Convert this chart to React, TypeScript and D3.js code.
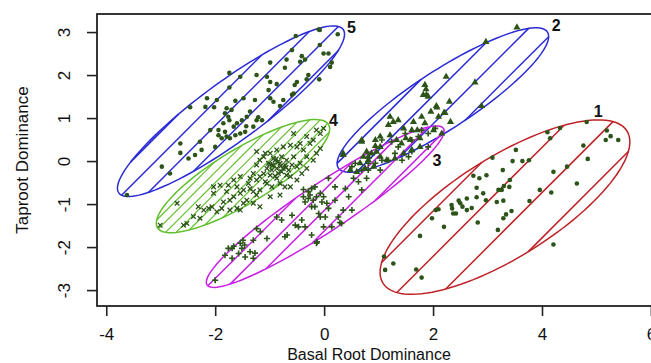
import React, { useEffect, useRef } from 'react';
import * as d3 from 'd3';

const width = 651;
const height = 363;
const font = 'Liberation Sans, Arial, Helvetica, sans-serif';

// plot region (R "usr" limits) and where it sits on the page
const xLimits = [-4.17, 6.35];
const yLimits = [-3.37, 3.42];
const plot = { left: 97, right: 670, top: 14, bottom: 306 };

const xTicks = [-4, -2, 0, 2, 4, 6];
const yTicks = [-3, -2, -1, 0, 1, 2, 3];
const xTitle = 'Basal Root Dominance';
const yTitle = 'Taproot Dominance';

const groupLabels = ['1', '2', '3', '4', '5'];
const groupColors = ['#bd2227', '#2a2ad6', '#c81ee6', '#62bf2e', '#2a2ad6'];
const pointColor = '#2c5419';

// ellipse centre and two conjugate semi-axes, in data units
const ellipseCenters = [[3.32, -1.07], [2.18, 1.42], [0.02, -1.06], [-1.49, -0.35], [-1.71, 1.16]];
const ellipseMajor = [[2.24, 1.77], [1.92, 1.58], [2.17, 1.82], [1.57, 1.2], [2.06, 1.9]];
const ellipseMinor = [[0.49, -0.99], [0.29, -0.57], [0.24, -0.46], [0.26, -0.54], [0.32, -0.57]];
const labelPositions = [[5.03, 1.16], [4.26, 3.16], [2.07, 0.02], [0.17, 0.95], [0.5, 3.12]];

// shading lines (pixels): spacing and offset from the centre
const hatchSpacing = [32, 20, 14.5, 7.5, 17];
const hatchPhase = [16, 10, 2, 0, -1];

const group1 = [
  [4.82, 0.91], [5.19, 0.71], [5.26, 0.58], [5.4, 0.49], [5.17, 0.49], [4.76, 0.36], [4.84, 0.05],
  [4.1, 0.67], [4.15, 0.53], [4.33, 0.77], [3.52, 0.26], [3.46, 0.0], [3.64, 0.0], [3.76, 0.02],
  [3.09, 0.08], [3.28, -0.21], [4.21, -0.25], [4.46, -0.13], [2.74, -0.34], [2.85, -0.4], [2.98, -0.33],
  [3.41, -0.44], [3.3, -0.58], [3.2, -0.67], [3.26, -0.67], [3.4, -0.6], [4.64, -0.52], [3.96, -0.67],
  [4.17, -0.73], [2.8, -0.62], [2.92, -0.75], [2.97, -0.91], [2.8, -0.84], [2.62, -0.87], [2.47, -0.92],
  [2.5, -0.98], [2.54, -1.06], [2.34, -1.02], [2.35, -1.1], [2.42, -1.22], [2.37, -1.22], [2.1, -1.12],
  [2.05, -1.14], [1.98, -1.33], [2.62, -1.14], [2.71, -1.09], [2.82, -1.43], [2.2, -1.53], [1.76, -1.74],
  [3.17, -0.95], [3.29, -0.92], [3.77, -0.93], [3.44, -1.16], [3.34, -1.24], [3.29, -1.33], [3.19, -1.6],
  [4.21, -1.94], [1.1, -2.22], [1.12, -2.53], [1.27, -2.38], [1.69, -2.52], [1.79, -2.71],
];

const group2 = [
  [3.54, 3.11], [2.97, 2.77], [2.24, 1.96], [2.77, 1.83], [2.89, 1.28], [1.85, 1.77], [1.88, 1.54],
  [1.91, 1.5], [1.82, 1.54], [2.3, 1.38], [2.07, 1.25], [1.96, 1.15], [2.1, 1.03], [2.22, 1.12],
  [2.32, 0.91], [1.79, 1.03], [1.85, 0.88], [1.64, 0.91], [1.71, 0.72], [1.36, 0.95], [1.21, 1.03],
  [1.27, 0.91], [1.18, 0.84], [1.46, 0.76], [1.61, 0.72], [1.5, 0.53], [1.21, 0.6], [1.33, 0.49],
  [1.42, 0.41], [1.58, 0.49], [1.76, 0.53], [1.03, 0.57], [0.69, 0.49], [0.94, 0.35], [0.78, 0.22],
  [0.87, 0.18], [0.72, 0.1], [0.81, 0.02], [0.66, -0.05], [0.35, 0.14], [1.03, 0.1], [1.15, 0.02],
  [1.3, 0.06], [1.46, 0.18], [1.61, 0.26], [0.91, -0.13], [0.75, -0.17], [0.6, -0.25], [0.48, -0.21],
  [1.03, 0.33], [1.76, 0.33], [2.01, 0.72], [1.87, 1.67], [2.06, 1.28], [2.2, 1.12], [2.16, 0.64],
  [0.35, 0.18], [0.69, 0.45], [0.94, 0.49], [0.81, 0.1], [0.96, 0.22],
];

const group3 = [
  [-2.0, -2.77], [-1.82, -2.19], [-1.76, -2.03], [-1.66, -1.98], [-1.54, -1.91], [-1.51, -2.03],
  [-1.46, -1.95], [-1.57, -2.15], [-1.69, -2.26], [-1.45, -2.23], [-1.3, -2.26], [-1.36, -2.11],
  [-1.24, -1.57], [-1.17, -1.64], [-1.3, -1.84], [-1.05, -1.8], [-0.87, -1.3], [-0.78, -1.37],
  [-0.72, -1.76], [-0.59, -1.26], [-0.53, -1.49], [-0.41, -1.37], [-0.35, -0.95], [-0.29, -0.71],
  [-0.26, -0.79], [-0.23, -0.64], [-0.17, -0.6], [-0.2, -0.91], [-0.14, -0.83], [-0.07, -0.75],
  [-0.04, -0.95], [-0.17, -1.06], [-0.1, -1.22], [-0.07, -1.3], [0.05, -0.98], [0.08, -1.1],
  [0.02, -1.3], [0.2, -0.91], [0.26, -1.3], [0.35, -1.14], [0.45, -0.83], [0.51, -1.14], [0.32, -1.45],
  [0.14, -1.53], [-0.01, -1.53], [-0.23, -1.72], [-0.35, -1.53], [-0.47, -1.53], [-0.14, -1.91],
  [0.08, -0.4], [0.2, -0.6], [0.39, -0.64], [0.54, -0.4], [0.63, -0.48], [0.69, -0.67], [0.78, -0.4],
  [0.69, -0.21], [0.51, -0.13], [0.81, -0.21], [0.57, -0.05], [0.94, -0.05], [0.81, -0.05], [1.06, 0.02],
  [1.03, -0.21], [1.18, 0.02], [1.3, 0.18], [1.36, 0.33], [1.43, 0.02], [1.55, 0.1], [1.61, 0.49],
  [1.73, 0.57], [1.91, 0.64], [1.79, 0.72], [2.04, 0.76], [1.61, 0.22], [1.24, 0.45], [1.06, 0.49],
  [1.49, 0.64], [1.91, 0.33], [-0.29, -0.87], [-0.38, -0.83], [-0.23, -1.06], [-0.01, -0.83],
  [-1.69, -2.03], [-1.49, -1.84], [-1.27, -2.14], [-0.68, -1.72], [-0.38, -0.66], [0.29, -1.43], [-0.13, -1.88],
];

const group4 = [
  [-3.01, -1.49], [-2.7, -0.98], [-2.58, -1.49], [-2.52, -1.45], [-2.31, -1.06], [-2.12, -1.1],
  [-2.06, -1.06], [-2.28, -1.33], [-2.03, -0.75], [-1.97, -1.18], [-1.88, -1.1], [-1.85, -0.95],
  [-1.79, -0.71], [-1.73, -0.91], [-1.66, -0.83], [-1.6, -0.6], [-1.54, -0.75], [-1.48, -0.67],
  [-1.42, -0.91], [-1.39, -0.52], [-1.36, -0.64], [-1.3, -0.71], [-1.24, -0.79], [-1.18, -0.67],
  [-1.36, -0.4], [-1.3, -0.29], [-1.24, -0.44], [-1.18, -0.36], [-1.11, -0.29], [-1.08, -0.48],
  [-1.05, -0.17], [-1.02, -0.05], [-0.99, -0.33], [-0.96, -0.21], [-0.93, -0.09], [-0.9, 0.02],
  [-0.87, -0.17], [-0.84, -0.29], [-0.81, -0.05], [-0.78, 0.1], [-0.75, -0.17], [-0.72, -0.09],
  [-0.69, 0.02], [-0.65, -0.21], [-0.62, -0.36], [-0.59, -0.09], [-0.56, 0.1], [-0.5, 0.33],
  [-0.5, -0.13], [-0.44, 0.41], [-0.38, 0.26], [-0.32, 0.1], [-0.32, 0.57], [-0.26, 0.41], [-0.2, 0.49],
  [-0.14, 0.72], [-0.07, 0.64], [-0.01, 0.76], [-0.62, 0.37], [-0.56, 0.64], [-0.75, 0.33], [-0.87, 0.26],
  [-0.99, 0.18], [-1.11, 0.1], [-1.18, 0.02], [-1.24, -0.09], [-1.05, -0.52], [-0.96, -0.6], [-0.81, -0.52],
  [-1.54, -0.36], [-1.66, -0.44], [-1.76, -0.56], [-1.91, -0.56], [-2.03, -0.6], [-1.48, -0.98],
  [-1.6, -1.1], [-1.73, -1.14], [-2.21, -1.14], [-2.4, -1.29], [-1.54, -1.14], [-1.3, -0.98],
  [-1.18, -1.06], [-0.99, -0.83], [-0.81, -0.79], [-0.72, -0.6], [-0.62, -0.6], [-0.5, -0.44],
  [-0.41, -0.29], [-0.32, -0.17], [-0.2, 0.02], [-0.14, 0.18], [-0.07, 0.29], [-0.44, -0.05],
  [-0.69, -0.33], [-0.87, -0.4], [-0.93, 0.06], [-1.08, 0.18], [-1.24, 0.22], [-0.95, -0.1],
  [-0.85, -0.02], [-0.78, -0.25], [-0.9, -0.35], [-1.0, -0.08], [-0.7, -0.15], [-0.88, 0.05], [-0.8, -0.12],
];

const group5 = [
  [-0.1, 3.06], [-0.08, 3.05], [-0.52, 2.91], [0.25, 2.95], [-0.08, 2.7], [-0.59, 2.58], [-0.01, 2.5],
  [0.08, 2.5], [-0.41, 2.44], [-0.35, 2.36], [-0.44, 2.31], [-0.69, 2.36], [0.14, 2.29], [0.11, 2.19],
  [-0.09, 1.9], [-0.29, 2.0], [-0.32, 1.9], [-0.99, 2.29], [-1.74, 2.05], [-1.24, 2.0], [-1.05, 1.96],
  [-0.99, 1.84], [-0.87, 1.79], [-0.72, 2.17], [-0.5, 1.84], [-0.54, 1.77], [-0.56, 1.57], [-0.59, 1.54],
  [-0.75, 1.42], [-0.81, 1.28], [-0.93, 1.38], [-0.99, 1.46], [-1.02, 1.65], [-1.27, 1.42], [-1.48, 1.46],
  [-1.63, 1.4], [-1.54, 1.96], [-1.74, 1.71], [-2.15, 1.46], [-1.97, 1.42], [-2.02, 1.25], [-2.46, 1.25],
  [-2.18, 1.26], [-1.79, 1.23], [-1.82, 1.11], [-1.76, 1.03], [-1.7, 1.19], [-1.74, 0.95], [-1.85, 0.88],
  [-1.66, 0.8], [-1.6, 0.88], [-1.51, 0.95], [-1.42, 1.03], [-1.36, 1.15], [-1.24, 0.95], [-1.21, 1.02],
  [-1.14, 0.95], [-1.3, 0.8], [-1.45, 0.68], [-1.54, 0.64], [-1.63, 0.6], [-1.79, 0.57], [-1.88, 0.53],
  [-1.94, 0.6], [-1.82, 0.68], [-2.0, 0.33], [-2.28, 0.45], [-2.25, 0.26], [-2.37, 0.14], [-2.64, 0.41],
  [-2.49, 0.06], [-2.64, 0.19], [-2.98, -0.13], [-2.83, -0.29], [-3.62, -0.79], [-1.43, 0.81],
  [-1.73, 0.53], [-1.94, 0.72], [-2.09, 0.72],
];

const groups = [group1, group2, group3, group4, group5];

type Pt = [number, number];

// shading lines at 45 degrees, cut where they meet the ellipse
function hatchSegments(c: Pt, u: Pt, v: Pt, spacing: number, phase: number) {
  const d: Pt = [Math.SQRT1_2, -Math.SQRT1_2];
  const n: Pt = [Math.SQRT1_2, Math.SQRT1_2];
  const det = u[0] * v[1] - v[0] * u[1];
  const inv = (w: Pt): Pt => [(v[1] * w[0] - v[0] * w[1]) / det, (-u[1] * w[0] + u[0] * w[1]) / det];
  const q = inv(d);
  const segs: [Pt, Pt][] = [];
  for (let k = -80; k <= 80; k++) {
    const s = phase + k * spacing;
    const p = inv([s * n[0], s * n[1]]);
    const A = q[0] * q[0] + q[1] * q[1];
    const B = 2 * (p[0] * q[0] + p[1] * q[1]);
    const C = p[0] * p[0] + p[1] * p[1] - 1;
    const disc = B * B - 4 * A * C;
    if (disc <= 0) continue;
    const l1 = (-B - Math.sqrt(disc)) / (2 * A);
    const l2 = (-B + Math.sqrt(disc)) / (2 * A);
    const at = (l: number): Pt => [c[0] + s * n[0] + l * d[0], c[1] + s * n[1] + l * d[1]];
    segs.push([at(l1), at(l2)]);
  }
  return segs;
}

function marker(group: number, px: number, py: number, key: string) {
  if (group === 1) {
    const tri = d3.symbol().type(d3.symbolTriangle).size(22)();
    return <path key={key} d={tri || ''} transform={`translate(${px},${py})`} fill={pointColor} />;
  }
  if (group === 2) {
    return (
      <path key={key} d={`M${px - 3},${py}H${px + 3}M${px},${py - 3}V${py + 3}`}
        stroke={pointColor} strokeWidth={1.6} />
    );
  }
  if (group === 3) {
    return (
      <path key={key} d={`M${px - 2.3},${py - 2.3}L${px + 2.3},${py + 2.3}M${px - 2.3},${py + 2.3}L${px + 2.3},${py - 2.3}`}
        stroke={pointColor} strokeWidth={1.3} />
    );
  }
  return <circle key={key} cx={px} cy={py} r={2.3} fill={pointColor} />;
}

export default function App() {
  const xAxisRef = useRef<SVGGElement>(null);
  const yAxisRef = useRef<SVGGElement>(null);

  const x = d3.scaleLinear().domain(xLimits).range([plot.left, plot.right]);
  const y = d3.scaleLinear().domain(yLimits).range([plot.bottom, plot.top]);

  useEffect(() => {
    const gx = d3.select(xAxisRef.current as SVGGElement);
    gx.call(d3.axisBottom(x).tickValues(xTicks).tickSize(10).tickPadding(12).tickFormat(d => `${d}`));
    gx.select('.domain').remove();
    gx.selectAll('line').attr('stroke', '#222').attr('stroke-width', 1.6);
    gx.selectAll('text').attr('font-size', 17).attr('font-family', font).attr('fill', '#111');

    const gy = d3.select(yAxisRef.current as SVGGElement);
    gy.call(d3.axisLeft(y).tickValues(yTicks).tickSize(10).tickFormat(d => `${d}`));
    gy.select('.domain').remove();
    gy.selectAll('line').attr('stroke', '#222').attr('stroke-width', 1.6);
    gy.selectAll('text')
      .attr('x', null).attr('dy', null)
      .attr('text-anchor', 'middle')
      .attr('transform', 'translate(-27,0) rotate(-90)')
      .attr('font-size', 17).attr('font-family', font).attr('fill', '#111');
  }, []);

  return (
    <svg width={width} height={height} style={{ position: 'absolute', left: 0, top: 0, background: '#fff' }}>
      {/* ellipses with shading lines */}
      {ellipseCenters.map((cd, i) => {
        const c: Pt = [x(cd[0]), y(cd[1])];
        const u: Pt = [x(cd[0] + ellipseMajor[i][0]) - c[0], y(cd[1] + ellipseMajor[i][1]) - c[1]];
        const v: Pt = [x(cd[0] + ellipseMinor[i][0]) - c[0], y(cd[1] + ellipseMinor[i][1]) - c[1]];
        const ring = d3.range(0, 361, 3).map(a => {
          const t = (a * Math.PI) / 180;
          return [c[0] + u[0] * Math.cos(t) + v[0] * Math.sin(t), c[1] + u[1] * Math.cos(t) + v[1] * Math.sin(t)] as Pt;
        });
        const segs = hatchSegments(c, u, v, hatchSpacing[i], hatchPhase[i]);
        return (
          <g key={`e${i}`} stroke={groupColors[i]} fill="none" strokeWidth={1.5}>
            <path d={d3.line()(ring) || ''} />
            {segs.map((s, j) => (
              <line key={j} x1={s[0][0]} y1={s[0][1]} x2={s[1][0]} y2={s[1][1]} strokeWidth={i === 3 ? 1.2 : 1.5} />
            ))}
          </g>
        );
      })}

      {/* points */}
      {groups.map((g, i) => (
        <g key={`p${i}`}>{g.map((p, j) => marker(i, x(p[0]), y(p[1]), `${i}-${j}`))}</g>
      ))}

      {/* group numbers */}
      {labelPositions.map((p, i) => (
        <text key={`l${i}`} x={x(p[0])} y={y(p[1])} dy="0.36em" textAnchor="middle"
          fontFamily={font} fontWeight="bold" fontSize={16} fill="#111">{groupLabels[i]}</text>
      ))}

      {/* box and axes */}
      <rect x={plot.left} y={plot.top} width={plot.right - plot.left} height={plot.bottom - plot.top}
        fill="none" stroke="#222" strokeWidth={1.8} />
      <g ref={xAxisRef} transform={`translate(0,${plot.bottom})`} />
      <g ref={yAxisRef} transform={`translate(${plot.left},0)`} />

      <text x={369} y={360} textAnchor="middle" fontFamily={font} fontSize={16} fill="#111">{xTitle}</text>
      <text transform={`translate(28,${(plot.top + plot.bottom) / 2}) rotate(-90)`} textAnchor="middle"
        fontFamily={font} fontSize={17} fill="#111">{yTitle}</text>
    </svg>
  );
}
